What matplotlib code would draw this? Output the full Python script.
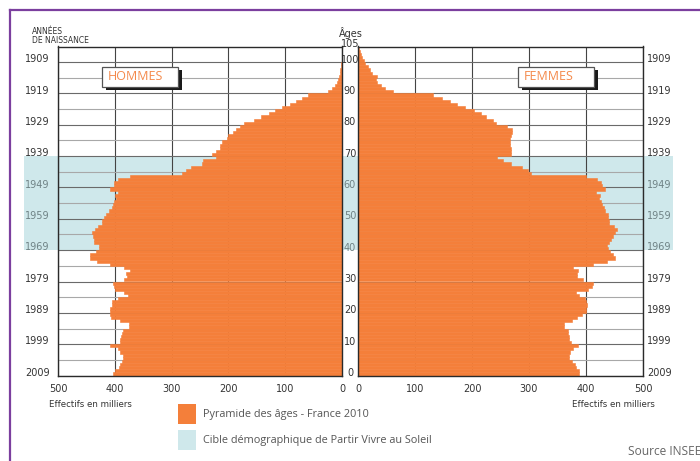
import matplotlib
matplotlib.use('Agg')
import matplotlib.pyplot as plt
from matplotlib.patches import Rectangle
from matplotlib.lines import Line2D
import matplotlib.transforms as mtransforms

# ---------------- data ----------------
ages = list(range(105))
hommes = [403, 400, 393, 390, 387, 386, 386, 390, 395, 408,
          391, 390, 389, 387, 385, 375, 375, 391, 406, 408,
          408, 409, 405, 405, 395, 377, 384, 399, 402, 403,
          384, 378, 381, 374, 384, 408, 431, 443, 443, 433,
          427, 428, 437, 437, 439, 440, 435, 430, 423, 422,
          419, 415, 411, 405, 404, 401, 398, 400, 394, 409,
          402, 402, 394, 373, 281, 274, 265, 247, 244, 221,
          229, 222, 215, 215, 212, 203, 200, 192, 186, 179,
          172, 155, 143, 129, 118, 106, 92, 81, 71, 60,
          25, 18, 12, 9, 7, 5, 4, 3, 2, 1.2,
          0.8, 0.4, 0.2, 0.1, 0.05]
femmes = [388, 387, 383, 380, 375, 371, 370, 372, 378, 386,
          374, 371, 371, 368, 368, 362, 361, 376, 385, 393,
          400, 400, 401, 400, 398, 388, 383, 403, 410, 413,
          395, 384, 385, 386, 378, 413, 436, 450, 447, 442,
          438, 436, 440, 443, 447, 450, 454, 449, 441, 441,
          438, 438, 434, 431, 428, 426, 422, 424, 418, 433,
          428, 426, 419, 400, 303, 298, 288, 268, 255, 243,
          269, 269, 268, 266, 266, 267, 269, 270, 271, 261,
          242, 236, 225, 215, 203, 187, 174, 161, 148, 131,
          62, 48, 40, 33, 31, 33, 25, 21, 17, 13,
          10, 7, 5, 3, 2]

year_tick_ages = [0, 10, 20, 30, 40, 50, 60, 70, 80, 90, 100]
year_labels = ['2009', '1999', '1989', '1979', '1969', '1959', '1949',
               '1939', '1929', '1919', '1909']
age_label_values = [0, 10, 20, 30, 40, 50, 60, 70, 80, 90, 100, 105]
x_ticks = [0, 100, 200, 300, 400, 500]
band_ages = (40, 70)

title_hommes = 'HOMMES'
title_femmes = 'FEMMES'
legend_labels = ['Pyramide des âges - France 2010',
                 'Cible démographique de Partir Vivre au Soleil']
source_text = 'Source INSEE'
axis_text = 'Effectifs en milliers'

# ---------------- style ----------------
ORANGE = '#F47F3A'
TEXT_OR = '#F4894A'
BLUE = '#CFE8EB'
PURPLE = '#7B3F9E'
DARK = '#333333'
GREYLBL = '#6F8285'

plt.rcParams['font.family'] = ['Liberation Sans Narrow', 'DejaVu Sans']

W, H = 700, 461
fig = plt.figure(figsize=(W / 100, H / 100), dpi=100)
fig.patch.set_facecolor('white')


def fx(px):
    return px / W


def fy(py):
    return 1 - py / H


top_px, bot_px = 46.5, 375.5
axL = fig.add_axes([fx(58), fy(bot_px), (342 - 58) / W, (bot_px - top_px) / H])
axR = fig.add_axes([fx(358), fy(bot_px), (643 - 358) / W, (bot_px - top_px) / H])

for ax, vals in ((axL, hommes), (axR, femmes)):
    ax.patch.set_facecolor('none')
    ax.barh(ages, vals, height=1.0, align='edge', color=ORANGE,
            edgecolor=ORANGE, linewidth=0.4, zorder=3)
    ax.set_ylim(0, 105)
    ax.set_xticks(x_ticks)
    ax.set_xticklabels([str(v) for v in x_ticks])
    ax.set_yticks(year_tick_ages)
    ax.set_yticks([5, 15, 25, 35, 45, 55, 65, 75, 85, 95], minor=True)
    ax.grid(axis='y', which='major', color='#6a6a6a', linewidth=0.8, zorder=1)
    ax.grid(axis='y', which='minor', color='#a8a8a8', linewidth=0.8, zorder=1)
    ax.grid(axis='x', which='major', color='#444444', linewidth=0.8, zorder=1)
    ax.set_axisbelow(True)
    for s in ax.spines.values():
        s.set_color('#2a2a2a')
        s.set_linewidth(1.0)
        s.set_zorder(4)
    ax.tick_params(axis='both', which='both', length=0, labelsize=7,
                   colors=DARK)
    ax.tick_params(axis='x', pad=6)

axL.set_xlim(500, 0)
axR.set_xlim(0, 500)

axL.set_yticklabels(year_labels)
axL.tick_params(axis='y', pad=6)
axR.yaxis.tick_right()
axR.set_yticklabels(year_labels)
axR.tick_params(axis='y', pad=3)

for ax in (axL, axR):
    for t, a in zip(ax.get_yticklabels(), year_tick_ages):
        if band_ages[0] <= a < band_ages[1]:
            t.set_color(GREYLBL)
        t.set_verticalalignment('center')
    offset = mtransforms.ScaledTranslation(0, 2 / 72, fig.dpi_scale_trans)
    for t in ax.get_yticklabels():
        t.set_transform(t.get_transform() + offset)

# age labels in the central gap
trans_mid = mtransforms.blended_transform_factory(fig.transFigure, axL.transData)
for a in age_label_values:
    col = GREYLBL if band_ages[0] <= a < band_ages[1] else DARK
    axL.text(fx(350), a + 0.8, str(a), transform=trans_mid, ha='center',
             va='center', fontsize=7, color=col, clip_on=False)
fig.text(fx(351), fy(33), 'Âges', ha='center', va='center', fontsize=7,
         color=DARK)

# band behind the pyramid
pos = axL.get_position()
b0 = pos.y0 + band_ages[0] / 105 * pos.height
b1 = pos.y0 + band_ages[1] / 105 * pos.height
fig.patches.append(Rectangle((fx(24), b0), fx(673) - fx(24), b1 - b0,
                             transform=fig.transFigure, facecolor=BLUE,
                             edgecolor='none', zorder=-5))

# header text
fig.text(fx(32), fy(32), 'ANNÉES', ha='left', va='center', fontsize=5.5,
         color=DARK)
fig.text(fx(32), fy(40.5), 'DE NAISSANCE', ha='left', va='center',
         fontsize=5.5, color=DARK)

# HOMMES / FEMMES boxes
for x0, label in ((102, title_hommes), (518, title_femmes)):
    fig.patches.append(Rectangle((fx(x0 + 4), fy(90)), 76 / W, 20 / H,
                                 transform=fig.transFigure, facecolor='#1a1a1a',
                                 edgecolor='none', zorder=4))
    fig.patches.append(Rectangle((fx(x0), fy(87)), 76 / W, 20 / H,
                                 transform=fig.transFigure, facecolor='white',
                                 edgecolor='#555555', linewidth=0.9, zorder=5))
    fig.text(fx(x0 + 6), fy(77), label, ha='left', va='center', fontsize=9,
             color=TEXT_OR, family=['Open Sans', 'DejaVu Sans'], zorder=6)

# axis captions
fig.text(fx(49), fy(404), axis_text, ha='left', va='center', fontsize=6.2,
         color=DARK)
fig.text(fx(655), fy(404), axis_text, ha='right', va='center', fontsize=6.2,
         color=DARK)

# legend
fig.patches.append(Rectangle((fx(178), fy(424)), 18 / W, 20 / H,
                             transform=fig.transFigure, facecolor=ORANGE,
                             edgecolor='none'))
fig.patches.append(Rectangle((fx(178), fy(450)), 18 / W, 20 / H,
                             transform=fig.transFigure, facecolor=BLUE,
                             edgecolor='none'))
fig.text(fx(203), fy(414), legend_labels[0], ha='left', va='center',
         fontsize=7.8, color='#555555', family=['Open Sans', 'DejaVu Sans'])
fig.text(fx(203), fy(440), legend_labels[1], ha='left', va='center',
         fontsize=7.8, color='#555555', family=['Open Sans', 'DejaVu Sans'])
fig.text(fx(628), fy(451), source_text, ha='left', va='center', fontsize=8.6,
         color='#666666', family=['Open Sans', 'DejaVu Sans'])

# purple frame
fig.add_artist(Line2D([fx(10), fx(10)], [fy(10), 0], transform=fig.transFigure,
                      color=PURPLE, linewidth=1.6))
fig.add_artist(Line2D([fx(10), 1], [fy(10), fy(10)], transform=fig.transFigure,
                      color=PURPLE, linewidth=1.6))

fig.savefig('out.png', dpi=100)
